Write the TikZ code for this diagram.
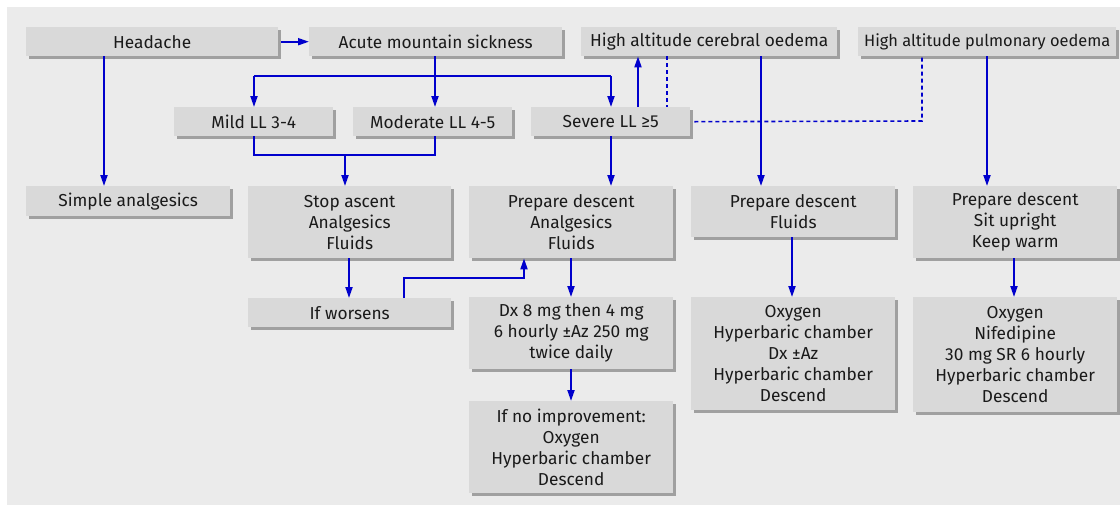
\documentclass[tikz,border=0pt]{standalone}
\usepackage{fontspec}
\setmainfont{Fira Sans}
\usetikzlibrary{arrows.meta,shadows}
\definecolor{bg}{HTML}{EBEBEB}
\definecolor{boxfill}{HTML}{D9D9D9}
\definecolor{shadowc}{HTML}{A0A0A0}
\definecolor{lineblue}{RGB}{0,0,204}
\definecolor{txt}{HTML}{1A1A1A}
\begin{document}
\begin{tikzpicture}[x=1pt,y=-1pt,
  box/.style={fill=boxfill, draw=none, inner sep=0pt, align=center, anchor=north west,
    text=txt, font=\fontsize{17.3}{21}\selectfont,
    drop shadow={shadow xshift=3pt, shadow yshift=-3pt, fill=shadowc, opacity=1}},
  conn/.style={draw=lineblue, line width=1.9pt},
  arr/.style={conn, -{Triangle[length=11pt,width=7pt]}},
  dot/.style={draw=lineblue, line width=1.6pt, dash pattern=on 4pt off 3pt}]
\useasboundingbox (0,0) rectangle (1120,504);
\fill[white] (0,0) rectangle (1120,504);
\fill[bg] (7,7) rectangle (1121,505);
% row 1
\node[box, minimum width=252pt, minimum height=29pt] (head) at (26,27) {Headache};
\node[box, minimum width=253pt, minimum height=29pt] (ams) at (309,27) {Acute mountain sickness};
\node[box, minimum width=256pt, minimum height=29pt] (hace) at (581,27) {High altitude cerebral oedema};
\node[box, minimum width=258pt, minimum height=29pt, font=\fontsize{16.4}{21}\selectfont] (hape) at (858,27) {High altitude pulmonary oedema};
% row 2
\node[box, minimum width=159pt, minimum height=29pt] (mild) at (174,107) {Mild LL 3-4};
\node[box, minimum width=159pt, minimum height=29pt] (mod) at (353,107) {Moderate LL 4-5};
\node[box, minimum width=159pt, minimum height=29pt] (sev) at (531,107) {Severe LL ≥5};
% row 3
\node[box, minimum width=204pt, minimum height=30pt] (simple) at (26,186) {Simple analgesics};
\node[box, minimum width=203pt, minimum height=72pt] (stop) at (248,186) {Stop ascent\\Analgesics\\Fluids};
\node[box, minimum width=204pt, minimum height=72pt] (prepA) at (469,186) {Prepare descent\\Analgesics\\Fluids};
\node[box, minimum width=204pt, minimum height=51pt] (prepC) at (691,186) {Prepare descent\\Fluids};
\node[box, minimum width=204pt, minimum height=72pt] (prepP) at (913,186) {Prepare descent\\Sit upright\\Keep warm};
% row 4
\node[box, minimum width=203pt, minimum height=29pt] (worse) at (248,298) {If worsens};
\node[box, minimum width=204pt, minimum height=72pt] (dx) at (469,297) {Dx 8 mg then 4 mg\\6 hourly ±Az 250 mg\\twice daily};
\node[box, minimum width=204pt, minimum height=113pt] (oxyC) at (691,297) {Oxygen\\Hyperbaric chamber\\Dx ±Az\\Hyperbaric chamber\\Descend};
\node[box, minimum width=204pt, minimum height=115pt] (oxyP) at (913,297) {Oxygen\\Nifedipine\\30 mg SR 6 hourly\\Hyperbaric chamber\\Descend};
% row 5
\node[box, minimum width=204pt, minimum height=92pt] (noimp) at (469,401) {If no improvement:\\Oxygen\\Hyperbaric chamber\\Descend};
% helper coordinates
\coordinate (xH) at (104,0);
\coordinate (xMild) at (254,0);
\coordinate (xAms) at (435,0);
\coordinate (xSev) at (611,0);
\coordinate (xUp) at (638,0);
\coordinate (xDotC) at (667,0);
\coordinate (xC) at (761,0);
\coordinate (xDotP) at (922,0);
\coordinate (xP) at (987,0);
\coordinate (xJoin) at (345,0);
\coordinate (xStop) at (349,0);
\coordinate (xWorse) at (404,0);
\coordinate (xBack) at (524,0);
\coordinate (xA) at (571,0);
\coordinate (xC2) at (792,0);
\coordinate (xP2) at (1014,0);
\coordinate (ySplit) at (0,76);
\coordinate (yJoin) at (0,155);
\coordinate (yBack) at (0,278);
\coordinate (yDot) at (0,121);
% connectors
\draw[arr] ([xshift=3pt]head.east) -- (ams.west);
\draw[arr] (head.south -| xH) -- (simple.north -| xH);
\draw[arr] (ams.south -| xAms) -- (mod.north -| xAms);
\draw[conn] (ySplit -| xMild) -- (ySplit -| xSev);
\draw[arr] (ySplit -| xMild) -- (mild.north -| xMild);
\draw[arr] (ySplit -| xSev) -- (sev.north -| xSev);
\draw[arr] (sev.north -| xUp) -- (hace.south -| xUp);
\draw[dot] (hace.south -| xDotC) -- (sev.north -| xDotC);
\draw[dot] ([xshift=4pt]sev.east) -- (yDot -| xDotP) -- (hape.south -| xDotP);
\draw[arr] (hace.south -| xC) -- (prepC.north -| xC);
\draw[arr] (hape.south -| xP) -- (prepP.north -| xP);
\draw[conn] (mild.south -| xMild) -- (yJoin -| xMild) -- (yJoin -| xAms) -- (mod.south -| xAms);
\draw[arr] (yJoin -| xJoin) -- (stop.north -| xJoin);
\draw[arr] (sev.south -| xSev) -- (prepA.north -| xSev);
\draw[arr] (stop.south -| xStop) -- (worse.north -| xStop);
\draw[arr] (worse.north -| xWorse) -- (yBack -| xWorse) -- (yBack -| xBack) -- (prepA.south -| xBack);
\draw[arr] (prepA.south -| xA) -- (dx.north -| xA);
\draw[arr] (prepC.south -| xC2) -- (oxyC.north -| xC2);
\draw[arr] (prepP.south -| xP2) -- (oxyP.north -| xP2);
\draw[arr] (dx.south -| xA) -- (noimp.north -| xA);
\end{tikzpicture}
\end{document}
